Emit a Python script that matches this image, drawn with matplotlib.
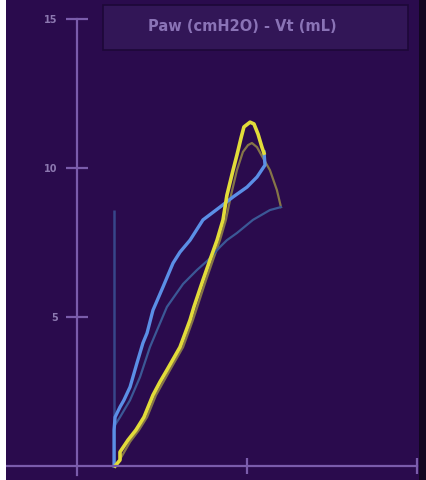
import matplotlib.pyplot as plt
from matplotlib.patches import Rectangle

# Paw (cmH2O) on x, Vt (mL) on y
# current breath, inspiration (yellow)
insp_paw = [2.24, 2.53, 2.53, 3.00, 3.47, 3.94, 4.47, 4.88, 5.29, 6.06, 6.65, 6.88, 7.41,
            7.82, 8.24, 8.59, 8.82, 9.18, 9.41, 9.65, 9.82, 10.18, 10.41, 10.65, 10.88, 11.00]
insp_vt = [0.0, 0.20, 0.47, 0.87, 1.21, 1.64, 2.38, 2.82, 3.22, 3.99, 4.90, 5.34, 6.24,
           6.91, 7.58, 8.26, 9.09, 9.93, 10.44, 11.01, 11.38, 11.54, 11.48, 11.14, 10.70, 10.50]

# current breath, expiration (blue)
exp_paw = [11.00, 11.06, 10.59, 10.00, 9.18, 8.41, 7.41, 6.65, 6.06, 5.65, 5.06, 4.47, 4.12,
           3.88, 3.53, 3.12, 2.76, 2.53, 2.24, 2.18, 2.18]
exp_vt = [10.54, 10.10, 9.70, 9.36, 9.03, 8.69, 8.26, 7.58, 7.18, 6.81, 6.01, 5.23, 4.46,
          4.13, 3.46, 2.65, 2.21, 1.98, 1.64, 1.21, 0.0]

# previous breath (faded)
prev_insp_paw = [2.29, 2.65, 3.12, 3.65, 4.12, 4.65, 5.47, 6.24, 6.82, 7.59, 8.41, 8.76, 9.06,
                 9.41, 9.76, 10.06, 10.29, 10.59, 10.94, 11.35, 11.76, 11.94, 12.00]
prev_insp_vt = [0.0, 0.34, 0.81, 1.21, 1.64, 2.38, 3.22, 3.99, 4.90, 6.24, 7.58, 8.26, 9.09,
                9.93, 10.54, 10.77, 10.84, 10.70, 10.34, 9.93, 9.26, 8.83, 8.69]
prev_exp_paw = [12.00, 11.35, 10.35, 9.41, 8.82, 8.41, 7.71, 7.06, 6.24, 5.29, 4.71, 4.29,
                3.71, 3.12, 2.53, 2.24]
prev_exp_vt = [8.69, 8.59, 8.26, 7.82, 7.58, 7.35, 6.91, 6.58, 6.11, 5.34, 4.56, 3.99,
               2.99, 2.21, 1.64, 1.38]

# faint vertical trace at PEEP
peep_paw = [2.2, 2.2]
peep_vt = [8.6, 0.0]

y_ticks = [5, 10, 15]
x_ticks = [10, 20]

bg = '#2a0b4d'
axis_col = '#7a5cab'

fig = plt.figure(figsize=(4.27, 4.8), dpi=100, facecolor=bg)
ax = fig.add_axes([0, 0, 1, 1])
ax.set_facecolor(bg)

ax.plot(peep_paw, peep_vt, color='#37468a', lw=1.8, solid_capstyle='butt')
ax.plot(prev_insp_paw, prev_insp_vt, color='#857548', lw=1.6)
ax.plot(prev_exp_paw, prev_exp_vt, color='#3b5896', lw=1.6)
ax.plot(exp_paw, exp_vt, color='#5b8fe6', lw=2.4)
ax.plot(insp_paw, insp_vt, color='#e2dc3a', lw=2.6)

ax.set_xlim(-4.53, 20.59)
ax.set_ylim(-0.47, 15.64)

for s in ['top', 'right']:
    ax.spines[s].set_visible(False)
ax.spines['left'].set_position(('data', 0))
ax.spines['bottom'].set_position(('data', 0))
ax.spines['left'].set_bounds(-0.3, 15)
ax.spines['bottom'].set_bounds(-4.18, 20)
for s in ['left', 'bottom']:
    ax.spines[s].set_color(axis_col)
    ax.spines[s].set_linewidth(1.6)

ax.set_yticks(y_ticks)
ax.set_yticklabels([str(t) for t in y_ticks])
ax.set_xticks(x_ticks)
ax.set_xticklabels([])
ax.tick_params(axis='y', direction='inout', length=15.5, width=1.6, color=axis_col,
               labelcolor='#8c78b0', labelsize=7, pad=6)
ax.tick_params(axis='x', direction='inout', length=12, width=1.6, color=axis_col)
for lab in ax.get_yticklabels():
    lab.set_fontweight('bold')

# title box
ax.add_patch(Rectangle((0.241, 0.896), 0.714, 0.094, transform=ax.transAxes,
                       facecolor='#321657', edgecolor='#1d0838', lw=1.2, zorder=3))
ax.text(0.567, 0.944, 'Paw (cmH2O) - Vt (mL)', transform=ax.transAxes, ha='center',
        va='center', color='#8a73b6', fontsize=10.5, fontweight='bold', zorder=4)

# screen edges
fig.patches.append(Rectangle((0, 0), 6 / 427, 1, transform=fig.transFigure,
                             facecolor='white', edgecolor='none', zorder=5))
fig.patches.append(Rectangle((419 / 427, 0), 8 / 427, 1, transform=fig.transFigure,
                             facecolor='#120720', edgecolor='none', zorder=5))

fig.savefig('out.png', dpi=100, facecolor=bg)
